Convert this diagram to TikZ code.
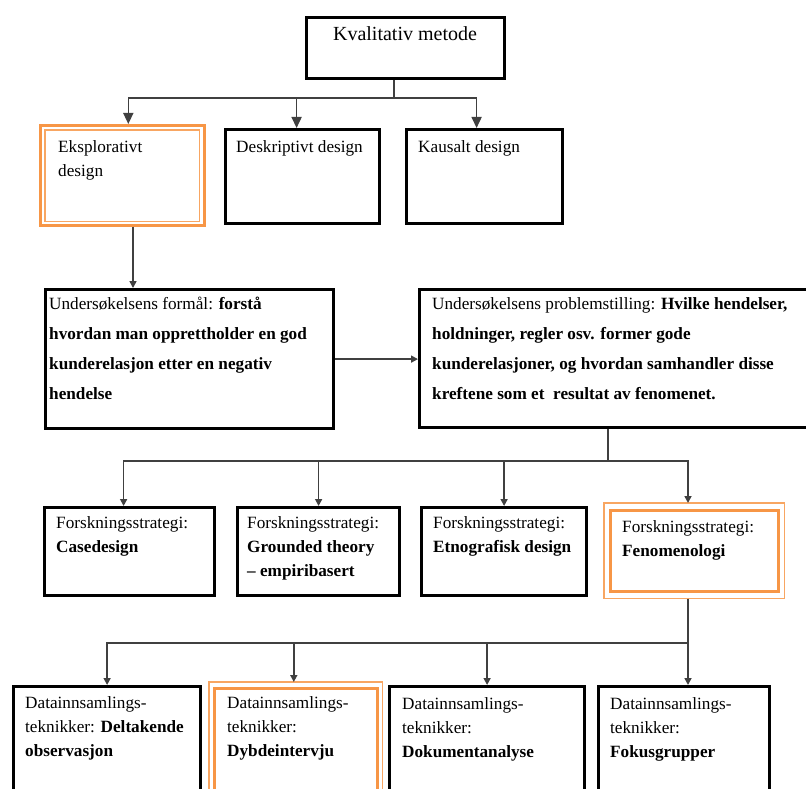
\documentclass[tikz,border=0pt]{standalone}
\usepackage{fontspec}
\setmainfont{Liberation Serif}
\usetikzlibrary{arrows.meta,calc}
\definecolor{accent}{HTML}{F79646}
\definecolor{connc}{HTML}{404040}
% multi-line cell text; the baseline of the first line is the reference point
\newcommand{\celltext}[1]{\parbox[t]{420pt}{\raggedright #1}}
\tikzset{
  box/.style={draw=black, line width=3.2pt, rectangle, anchor=north west, inner sep=0pt, fill=white},
  obox/.style={draw=accent, line width=2.6pt, rectangle, anchor=north west, inner sep=0pt, fill=white},
  rim/.style={draw=accent!85, line width=1.2pt},
  txt/.style={anchor=base west, inner sep=0pt, font=\fontsize{17.2}{24}\selectfont},
  wide/.style={txt, font=\fontsize{17.2}{30}\selectfont},
  conn/.style={draw=connc, line width=1.6pt},
  arr/.style={conn, -{Triangle[width=7pt,length=7pt]}},
  bigarr/.style={conn, -{Triangle[width=10pt,length=11pt]}},
}
\begin{document}
\begin{tikzpicture}[x=1pt, y=-1pt]
  \useasboundingbox (0,0) rectangle (806,789);
  \fill[white] (0,0) rectangle (806,789);
  \clip (0,0) rectangle (806,789);

  % boxes
  \node[box, minimum width=198pt, minimum height=61pt] (kv) at (305,16) {};
  \node[obox, minimum width=164pt, minimum height=100pt] (eks) at (39,124) {};
  \draw[rim] ([shift={(6pt,-6pt)}]eks.north west) rectangle ([shift={(-6pt,5pt)}]eks.south east);
  \node[box, minimum width=154pt, minimum height=94pt] (desk) at (224,128) {};
  \node[box, minimum width=156pt, minimum height=94pt] (kaus) at (405,128) {};

  \node[box, minimum width=288pt, minimum height=139pt] (und) at (44,288) {};
  \node[box, minimum width=420pt, minimum height=138pt] (prob) at (418,288) {};

  \node[box, minimum width=170pt, minimum height=88pt] (cs) at (43,506) {};
  \node[box, minimum width=162pt, minimum height=88pt] (gt) at (236,506) {};
  \node[box, minimum width=165pt, minimum height=88pt] (et) at (420,506) {};
  \node[obox, minimum width=168pt, minimum height=81pt] (fen) at (609,509) {};
  \draw[rim] ([shift={(-5pt,6pt)}]fen.north west) rectangle ([shift={(5pt,-6pt)}]fen.south east);

  \node[box, minimum width=187pt, minimum height=130pt] (obs) at (12,685) {};
  \node[obox, minimum width=163pt, minimum height=130pt] (dyb) at (213,687) {};
  \draw[rim] ([shift={(-4pt,5pt)}]dyb.north west) rectangle ([shift={(4pt,-5pt)}]dyb.south east);
  \node[box, minimum width=195pt, minimum height=130pt] (dok) at (388,685) {};
  \node[box, minimum width=171pt, minimum height=130pt] (fok) at (597,685) {};

  % connectors
  \coordinate (j1) at (394,98);
  \draw[conn] (kv.south -| j1) -- (j1);
  \draw[bigarr] (j1) -| ([xshift=6pt]eks.north);
  \draw[bigarr] (j1) -| ([xshift=-6pt]desk.north);
  \draw[bigarr] (j1) -| ([xshift=-8pt]kaus.north);

  \coordinate (e1) at (133,0);
  \draw[arr] (eks.south -| e1) -- (und.north -| e1);
  \draw[arr] (und.east) -- (und.east -| prob.west);

  \coordinate (j2) at (608,461);
  \coordinate (j3) at (688,643);
  \draw[conn] (prob.south -| j2) -- (j2);
  \draw[arr] (j2) -| ([xshift=-6pt]cs.north);
  \draw[arr] (j2) -| (gt.north);
  \draw[arr] (j2) -| (et.north);
  \draw[arr] (j2) -| ($(fen.north -| j3)+(0,-6)$);

  \draw[conn] ($(fen.south -| j3)+(0,6)$) -- (j3);
  \draw[arr] (j3) -- (fok.north -| j3);
  \draw[arr] (j3) -| (obs.north);
  \draw[arr] (j3) -| ($(dyb.north)+(-2,-5)$);
  \draw[arr] (j3) -| (dok.north);

  % texts
  \node[anchor=base, inner sep=0pt, font=\fontsize{20}{24}\selectfont] (kvt) at (405,41) {Kvalitativ metode};
  \node[txt] (ekst) at (58,153) {\celltext{Eksplorativt\\design}};
  \node[txt] (deskt) at (236,153) {Deskriptivt design};
  \node[txt] (kaust) at (418,153) {Kausalt design};

  \node[wide] (undt) at (49,309) {\celltext{Undersøkelsens formål: \textbf{forstå}\\
    \textbf{hvordan man opprettholder en god}\\
    \textbf{kunderelasjon etter en negativ}\\
    \textbf{hendelse}}};
  \node[wide] (probt) at (432,309) {\celltext{Undersøkelsens problemstilling: \textbf{Hvilke hendelser,}\\
    \textbf{holdninger, regler osv. former gode}\\
    \textbf{kunderelasjoner, og hvordan samhandler disse}\\
    \textbf{kreftene som et\ \ resultat av fenomenet.}}};

  \node[txt] (cst) at (56,528) {\celltext{Forskningsstrategi:\\\textbf{Casedesign}}};
  \node[txt] (gtt) at (247,528) {\celltext{Forskningsstrategi:\\\textbf{Grounded theory}\\\textbf{– empiribasert}}};
  \node[txt] (ett) at (433,528) {\celltext{Forskningsstrategi:\\\textbf{Etnografisk design}}};
  \node[txt] (fent) at (622,532) {\celltext{Forskningsstrategi:\\\textbf{Fenomenologi}}};

  \node[txt] (obst) at (25,708) {\celltext{Datainnsamlings-\\teknikker: \textbf{Deltakende}\\\textbf{observasjon}}};
  \node[txt] (dybt) at (227,708) {\celltext{Datainnsamlings-\\teknikker:\\\textbf{Dybdeintervju}}};
  \node[txt] (dokt) at (402,709) {\celltext{Datainnsamlings-\\teknikker:\\\textbf{Dokumentanalyse}}};
  \node[txt] (fokt) at (610,709) {\celltext{Datainnsamlings-\\teknikker:\\\textbf{Fokusgrupper}}};
\end{tikzpicture}
\end{document}
